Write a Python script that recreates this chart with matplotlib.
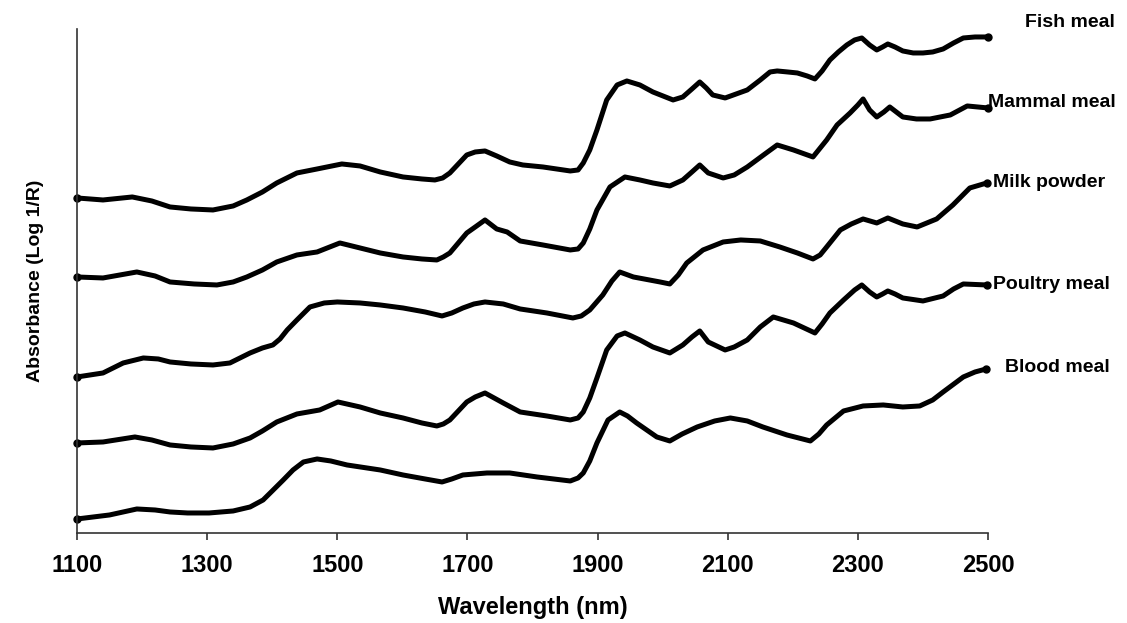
import numpy as np
import matplotlib.pyplot as plt

plt.rcParams.update({
    "font.family": "Liberation Sans",
    "font.weight": "bold",
})

# NIR spectra (arbitrary absorbance offsets)
fish_nm = [1100, 1140, 1185, 1215, 1243, 1275, 1309, 1340, 1361, 1385, 1407, 1438, 1469, 1507,
           1535, 1566, 1601, 1630, 1650, 1662, 1673, 1686, 1699, 1712, 1727, 1745, 1765, 1785,
           1816, 1858, 1870, 1878, 1888, 1899, 1914, 1930, 1945, 1965, 1985, 2016, 2031, 2045,
           2057, 2067, 2077, 2096, 2130, 2150, 2165, 2176, 2192, 2207, 2222, 2234, 2245, 2257,
           2270, 2283, 2295, 2306, 2318, 2329, 2338, 2346, 2357, 2369, 2385, 2400, 2415, 2431,
           2447, 2462, 2480, 2500]
fish_abs = [3.35, 3.33, 3.36, 3.32, 3.26, 3.24, 3.23, 3.27, 3.33, 3.41, 3.50, 3.60, 3.64, 3.69,
            3.67, 3.61, 3.56, 3.54, 3.53, 3.55, 3.60, 3.69, 3.78, 3.81, 3.82, 3.77, 3.71, 3.68,
            3.66, 3.62, 3.63, 3.70, 3.83, 4.03, 4.33, 4.48, 4.52, 4.48, 4.41, 4.33, 4.36, 4.44,
            4.51, 4.45, 4.38, 4.35, 4.43, 4.53, 4.61, 4.62, 4.61, 4.60, 4.57, 4.54, 4.62, 4.73,
            4.81, 4.88, 4.93, 4.95, 4.88, 4.83, 4.86, 4.89, 4.86, 4.82, 4.80, 4.80, 4.81, 4.84,
            4.90, 4.95, 4.96, 4.96]

mammal_nm = [1100, 1140, 1192, 1220, 1243, 1280, 1315, 1340, 1361, 1385, 1407, 1438, 1469, 1504,
             1535, 1566, 1601, 1630, 1653, 1663, 1673, 1686, 1699, 1712, 1727, 1745, 1761, 1781,
             1816, 1858, 1870, 1878, 1888, 1899, 1919, 1942, 1965, 1985, 2011, 2031, 2045, 2057,
             2070, 2093, 2110, 2130, 2155, 2176, 2201, 2231, 2252, 2268, 2288, 2300, 2308, 2318,
             2329, 2340, 2349, 2369, 2390, 2411, 2442, 2468, 2500]
mammal_abs = [2.56, 2.55, 2.61, 2.57, 2.51, 2.49, 2.48, 2.51, 2.56, 2.63, 2.71, 2.78, 2.81, 2.90,
              2.85, 2.80, 2.76, 2.74, 2.73, 2.76, 2.80, 2.90, 3.00, 3.06, 3.13, 3.04, 3.01, 2.92,
              2.88, 2.83, 2.84, 2.90, 3.04, 3.23, 3.46, 3.56, 3.53, 3.50, 3.47, 3.53, 3.61, 3.68,
              3.60, 3.55, 3.58, 3.66, 3.78, 3.88, 3.83, 3.76, 3.93, 4.08, 4.20, 4.28, 4.34, 4.23,
              4.16, 4.21, 4.26, 4.16, 4.14, 4.14, 4.18, 4.27, 4.25]

milk_nm = [1100, 1140, 1171, 1202, 1225, 1243, 1275, 1309, 1335, 1366, 1385, 1401, 1412, 1423,
           1438, 1458, 1480, 1500, 1535, 1566, 1601, 1635, 1661, 1676, 1693, 1710, 1727, 1755,
           1781, 1822, 1862, 1875, 1888, 1908, 1922, 1934, 1955, 1996, 2011, 2024, 2037, 2062,
           2093, 2120, 2150, 2180, 2207, 2231, 2242, 2252, 2273, 2290, 2308, 2329, 2346, 2369,
           2391, 2421, 2446, 2472, 2498]
milk_abs = [1.56, 1.60, 1.70, 1.75, 1.74, 1.71, 1.69, 1.68, 1.70, 1.80, 1.85, 1.88, 1.94, 2.03,
            2.13, 2.26, 2.30, 2.31, 2.30, 2.28, 2.25, 2.21, 2.17, 2.20, 2.25, 2.29, 2.31, 2.29,
            2.24, 2.20, 2.15, 2.17, 2.23, 2.38, 2.52, 2.61, 2.56, 2.51, 2.49, 2.58, 2.70, 2.83,
            2.91, 2.93, 2.92, 2.86, 2.80, 2.74, 2.78, 2.86, 3.03, 3.09, 3.14, 3.10, 3.15, 3.09,
            3.06, 3.14, 3.28, 3.45, 3.50]

poultry_nm = [1100, 1140, 1189, 1215, 1243, 1275, 1309, 1340, 1366, 1385, 1407, 1438, 1473, 1501,
              1535, 1566, 1601, 1630, 1653, 1663, 1673, 1686, 1699, 1712, 1727, 1755, 1781, 1822,
              1858, 1870, 1878, 1888, 1899, 1914, 1930, 1942, 1965, 1985, 2011, 2031, 2045, 2057,
              2070, 2096, 2110, 2130, 2150, 2170, 2201, 2234, 2245, 2257, 2278, 2295, 2306, 2318,
              2329, 2338, 2346, 2357, 2369, 2400, 2431, 2447, 2462, 2498]
poultry_abs = [0.90, 0.91, 0.96, 0.93, 0.88, 0.86, 0.85, 0.89, 0.95, 1.02, 1.11, 1.19, 1.23, 1.31,
               1.26, 1.20, 1.15, 1.10, 1.07, 1.09, 1.13, 1.22, 1.31, 1.36, 1.40, 1.30, 1.21, 1.17,
               1.13, 1.15, 1.21, 1.35, 1.55, 1.83, 1.97, 2.00, 1.93, 1.86, 1.80, 1.88, 1.96, 2.02,
               1.91, 1.83, 1.86, 1.93, 2.06, 2.16, 2.10, 2.00, 2.09, 2.20, 2.33, 2.43, 2.48, 2.41,
               2.36, 2.39, 2.42, 2.39, 2.35, 2.32, 2.37, 2.44, 2.49, 2.48]

blood_nm = [1100, 1150, 1192, 1220, 1243, 1270, 1303, 1340, 1366, 1386, 1400, 1417, 1432, 1448,
            1469, 1490, 1515, 1566, 1601, 1635, 1661, 1676, 1693, 1730, 1765, 1807, 1858, 1870,
            1878, 1888, 1899, 1916, 1934, 1946, 1960, 1991, 2011, 2030, 2053, 2080, 2104, 2130,
            2154, 2191, 2227, 2240, 2252, 2278, 2308, 2339, 2369, 2395, 2415, 2431, 2462, 2480,
            2497]
blood_abs = [0.14, 0.18, 0.24, 0.23, 0.21, 0.20, 0.20, 0.22, 0.26, 0.33, 0.42, 0.53, 0.63, 0.71,
             0.74, 0.72, 0.68, 0.63, 0.58, 0.54, 0.51, 0.54, 0.58, 0.60, 0.60, 0.56, 0.52, 0.55,
             0.60, 0.72, 0.90, 1.13, 1.21, 1.17, 1.10, 0.96, 0.92, 0.99, 1.06, 1.12, 1.15, 1.12,
             1.06, 0.98, 0.92, 0.99, 1.08, 1.22, 1.27, 1.28, 1.26, 1.27, 1.33, 1.41, 1.56, 1.61,
             1.64]

names = ["Fish meal", "Mammal meal", "Milk powder", "Poultry meal", "Blood meal"]
label_x = [2557, 2500, 2508, 2508, 2526]
label_y = [5.10, 4.30, 3.50, 2.48, 1.65]

curves = [(fish_nm, fish_abs), (mammal_nm, mammal_abs), (milk_nm, milk_abs),
          (poultry_nm, poultry_abs), (blood_nm, blood_abs)]

fig = plt.figure(figsize=(11.27, 6.23), dpi=100)
ax = fig.add_axes([0.0683, 0.1445, 0.8084, 0.809])

for (nm, ab), name, lx, ly in zip(curves, names, label_x, label_y):
    ax.plot(nm, ab, color='k', lw=3.6, solid_joinstyle='round', solid_capstyle='round',
            marker='o', markersize=5, markevery=[0, len(nm) - 1], clip_on=False)
    ax.text(lx, ly, name, fontsize=14, fontweight='bold', ha='left', va='center',
            clip_on=False)

ax.set_xlim(1100, 2500)
ax.set_ylim(0, 5.04)
ax.set_xticks(np.arange(1100, 2501, 200))
ax.set_yticks([])
ax.spines['top'].set_visible(False)
ax.spines['right'].set_visible(False)
for s in ('left', 'bottom'):
    ax.spines[s].set_color('#333333')
    ax.spines[s].set_linewidth(1.2)
ax.tick_params(axis='x', direction='out', length=5, width=1.2, color='#333333',
               labelsize=17, pad=10)
for t in ax.get_xticklabels():
    t.set_fontweight('bold')
ax.set_xlabel('Wavelength (nm)', fontsize=17, fontweight='bold', labelpad=14)
ax.set_ylabel('Absorbance (Log 1/R)', fontsize=14, fontweight='bold', labelpad=24)

fig.savefig('out.png', dpi=100)
